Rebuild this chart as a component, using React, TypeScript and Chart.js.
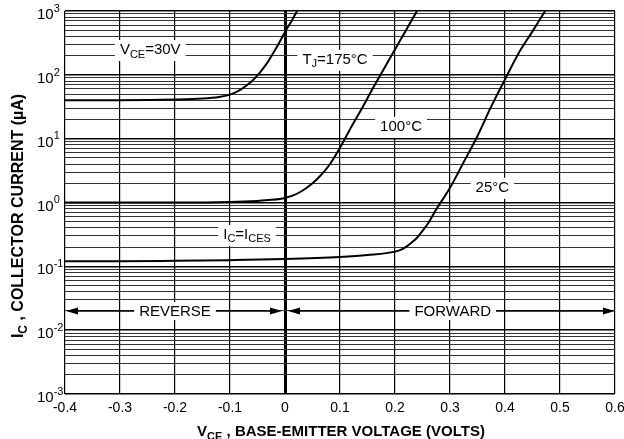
import { useEffect, useRef } from 'react';
import { Chart, registerables } from 'chart.js';

Chart.register(...registerables);

// ---- data ----
const X_TICKS = [-0.4, -0.3, -0.2, -0.1, 0, 0.1, 0.2, 0.3, 0.4, 0.5, 0.6];
const Y_DECADES = [-3, -2, -1, 0, 1, 2, 3];

// TJ = 175 °C (VCE = 30 V)
const T175_V = [-0.4, -0.3, -0.2, -0.15, -0.12, -0.1, -0.09, -0.08, -0.07, -0.06, -0.05, -0.04, -0.03, -0.02, -0.01, 0, 0.012, 0.022];
const T175_IC = [40, 40, 41, 42.5, 45, 49, 53, 59, 68, 80, 98, 125, 165, 230, 325, 470, 700, 1000];

// TJ = 100 °C
const T100_V = [-0.4, -0.3, -0.2, -0.1, -0.05, -0.025, 0, 0.015, 0.03, 0.045, 0.06, 0.08, 0.1, 0.12, 0.14, 0.16, 0.18, 0.2, 0.22, 0.24];
const T100_IC = [1.0, 1.0, 1.0, 1.02, 1.06, 1.1, 1.18, 1.29, 1.5, 1.85, 2.4, 3.8, 7.2, 15, 30, 62, 125, 250, 500, 1000];

// TJ = 25 °C
const T25_V = [-0.4, -0.3, -0.2, -0.1, 0, 0.1, 0.15, 0.2, 0.215, 0.23, 0.24, 0.25, 0.26, 0.275, 0.3, 0.325, 0.35, 0.375, 0.4, 0.425, 0.45, 0.473];
const T25_IC = [0.12, 0.12, 0.122, 0.125, 0.13, 0.14, 0.15, 0.17, 0.19, 0.235, 0.28, 0.36, 0.47, 0.78, 1.7, 4.3, 11, 32, 85, 220, 480, 1000];

const X_TITLE: [string, string][] = [['V', 'n'], ['CE', 'sub'], [' , BASE-EMITTER VOLTAGE (VOLTS)', 'n']];
const Y_TITLE: [string, string][] = [['I', 'n'], ['C', 'sub'], [' , COLLECTOR CURRENT (\u00B5A)', 'n']];

// curve labels: text parts and anchor (volts, microamps)
const LABELS: { parts: [string, string][]; v: number; i: number }[] = [
  { parts: [['V', 'n'], ['CE', 'sub'], ['=30V', 'n']], v: -0.245, i: 245 },
  { parts: [['T', 'n'], ['J', 'sub'], ['=175\u00B0C', 'n']], v: 0.091, i: 172 },
  { parts: [['100\u00B0C', 'n']], v: 0.211, i: 15.3 },
  { parts: [['25\u00B0C', 'n']], v: 0.377, i: 1.7 },
  { parts: [['I', 'n'], ['C', 'sub'], ['=I', 'n'], ['CES', 'sub']], v: -0.069, i: 0.31 },
];

// region arrows
const REGIONS = [
  { text: 'REVERSE', from: -0.4, to: 0, center: -0.2 },
  { text: 'FORWARD', from: 0, to: 0.6, center: 0.305 },
];
const REGION_LEVEL = 0.02;

const FAMILY = '"Liberation Sans", Arial, Helvetica, sans-serif';

function isDecade(v: number) {
  const l = Math.log10(v);
  return Math.abs(l - Math.round(l)) < 1e-6;
}

function drawRich(
  ctx: CanvasRenderingContext2D,
  parts: [string, string][],
  x: number,
  y: number,
  align: 'left' | 'center',
  size: number,
  bold: boolean
) {
  const font = (k: string) =>
    `${bold ? 'bold ' : ''}${k === 'n' ? size : Math.round(size * 0.72)}px ${FAMILY}`;
  const widths = parts.map(([t, k]) => {
    ctx.font = font(k);
    return ctx.measureText(t).width;
  });
  const total = widths.reduce((a, b) => a + b, 0);
  let cx = align === 'center' ? x - total / 2 : x;
  const left = cx;
  ctx.textAlign = 'left';
  ctx.textBaseline = 'middle';
  parts.forEach(([t, k], idx) => {
    ctx.font = font(k);
    const dy = k === 'sub' ? size * 0.3 : k === 'sup' ? -size * 0.42 : 0;
    ctx.fillText(t, cx, y + dy);
    cx += widths[idx];
  });
  return { left, width: total };
}

function measureRich(ctx: CanvasRenderingContext2D, parts: [string, string][], size: number) {
  let w = 0;
  parts.forEach(([t, k]) => {
    ctx.font = `${k === 'n' ? size : Math.round(size * 0.72)}px ${FAMILY}`;
    w += ctx.measureText(t).width;
  });
  return w;
}

const annotPlugin = {
  id: 'annot',
  beforeDatasetsDraw(chart: any) {
    const ctx: CanvasRenderingContext2D = chart.ctx;
    const xs = chart.scales.x;
    const ys = chart.scales.y;
    ctx.save();
    ctx.fillStyle = '#000';
    ctx.strokeStyle = '#000';

    // region arrows
    const ay = ys.getPixelForValue(REGION_LEVEL);
    REGIONS.forEach((r, idx) => {
      const x1 = xs.getPixelForValue(r.from) + (idx === 0 ? 1 : 3);
      const x2 = xs.getPixelForValue(r.to) - (idx === 0 ? 3 : 0);
      ctx.lineWidth = 1.6;
      ctx.beginPath();
      ctx.moveTo(x1 + 8, ay);
      ctx.lineTo(x2 - 8, ay);
      ctx.stroke();
      const head = (tip: number, dir: number) => {
        ctx.beginPath();
        ctx.moveTo(tip, ay);
        ctx.lineTo(tip - dir * 12, ay - 3.5);
        ctx.lineTo(tip - dir * 12, ay + 3.5);
        ctx.closePath();
        ctx.fill();
      };
      head(x1, -1);
      head(x2, 1);
      const cx = xs.getPixelForValue(r.center);
      ctx.font = `15px ${FAMILY}`;
      const w = ctx.measureText(r.text).width;
      ctx.fillStyle = '#fff';
      ctx.fillRect(cx - w / 2 - 5, ay - 9, w + 10, 18);
      ctx.fillStyle = '#000';
      ctx.textAlign = 'center';
      ctx.textBaseline = 'middle';
      ctx.fillText(r.text, cx, ay + 1);
    });

    // curve labels with white backing
    LABELS.forEach((l) => {
      const cx = xs.getPixelForValue(l.v);
      const cy = ys.getPixelForValue(l.i);
      const w = measureRich(ctx, l.parts, 15);
      ctx.fillStyle = '#fff';
      ctx.fillRect(cx - w / 2 - 5, cy - 10, w + 10, 21);
      ctx.fillStyle = '#000';
      drawRich(ctx, l.parts, cx, cy, 'center', 15, false);
    });
    ctx.restore();
  },
  afterDraw(chart: any) {
    const ctx: CanvasRenderingContext2D = chart.ctx;
    const ys = chart.scales.y;
    const area = chart.chartArea;
    ctx.save();
    ctx.fillStyle = '#000';
    // y tick labels 10^n
    Y_DECADES.forEach((d) => {
      const py = ys.getPixelForValue(Math.pow(10, d)) + 4;
      drawRich(ctx, [['10', 'n'], [String(d), 'sup']], 37, py, 'left', 15, false);
    });
    // x title
    drawRich(ctx, X_TITLE, (area.left + area.right) / 2 + 1, 432, 'center', 15, true);
    // y title
    ctx.translate(19, 216);
    ctx.rotate(-Math.PI / 2);
    drawRich(ctx, Y_TITLE, 0, 0, 'center', 16, true);
    ctx.restore();
  },
};

function series(v: number[], ic: number[]) {
  return {
    data: v.map((x, k) => ({ x, y: ic[k] })),
    borderColor: '#000',
    borderWidth: 2,
    pointRadius: 0,
    fill: false,
    cubicInterpolationMode: 'monotone' as const,
  };
}

export default function App() {
  const ref = useRef<HTMLCanvasElement>(null);
  useEffect(() => {
    document.body.style.margin = '0';
    const canvas = ref.current!;
    const chart = new Chart(canvas, {
      type: 'line',
      data: {
        datasets: [series(T175_V, T175_IC), series(T100_V, T100_IC), series(T25_V, T25_IC)] as any,
      },
      options: {
        animation: false,
        responsive: false,
        layout: { padding: { top: 11, right: 9, left: 0, bottom: 0 } },
        plugins: { legend: { display: false }, tooltip: { enabled: false } },
        scales: {
          x: {
            type: 'linear',
            min: -0.4,
            max: 0.6,
            afterBuildTicks: (s: any) => {
              s.ticks = X_TICKS.map((value) => ({ value }));
            },
            afterFit: (s: any) => {
              s.height = 45;
              s.paddingLeft = 0;
              s.paddingRight = 0;
            },
            grid: {
              color: '#000',
              lineWidth: (c: any) => (c.tick && Math.abs(c.tick.value) < 1e-9 ? 3 : 1.2),
              drawTicks: false,
            },
            border: { display: false },
            ticks: {
              color: '#000',
              font: { family: FAMILY, size: 14 },
              padding: 6,
              maxRotation: 0,
              autoSkip: false,
              callback: (v: any) => (Math.abs(Number(v)) < 1e-9 ? '0' : Number(v).toFixed(1)),
            },
          },
          y: {
            type: 'logarithmic',
            min: 1e-3,
            max: 1e3,
            afterBuildTicks: (s: any) => {
              const t: { value: number }[] = [];
              for (let d = -3; d < 3; d++) {
                for (let m = 1; m <= 9; m++) t.push({ value: m * Math.pow(10, d) });
              }
              t.push({ value: 1000 });
              s.ticks = t;
            },
            afterFit: (s: any) => {
              s.width = 65;
            },
            grid: {
              color: (c: any) => (c.tick && isDecade(c.tick.value) ? '#000' : '#333'),
              lineWidth: (c: any) => (c.tick && isDecade(c.tick.value) ? 1.6 : 1),
              drawTicks: false,
            },
            border: { display: false },
            ticks: { display: false },
          },
        },
      } as any,
      plugins: [annotPlugin],
    });
    return () => chart.destroy();
  }, []);
  return <canvas ref={ref} width={624} height={439} style={{ display: 'block', width: 624, height: 439 }} />;
}
